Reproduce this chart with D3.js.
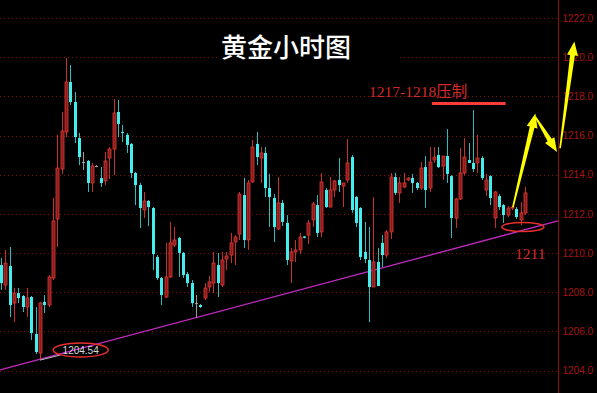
<!DOCTYPE html>
<html><head><meta charset="utf-8">
<script src="https://cdn.jsdelivr.net/npm/d3@7/dist/d3.min.js"></script>
<style>html,body{margin:0;padding:0;background:#000;overflow:hidden}</style>
</head><body>
<svg id="c" width="597" height="393"></svg>
<script>
// ---- data ----
const opens  = [1209.39,1208.37,1209.34,1207.45,1207.96,1207.81,1207.25,1207.76,1205.87,1204.90,1207.51,1207.35,1208.73,1211.74,1214.29,1216.18,1218.73,1217.71,1215.87,1214.65,1214.70,1213.58,1214.44,1213.83,1213.68,1214.85,1215.31,1217.20,1216.18,1216.03,1215.57,1214.09,1213.47,1212.20,1212.66,1212.30,1209.80,1208.73,1207.76,1208.78,1210.41,1210.77,1210.01,1208.93,1208.47,1207.45,1207.35,1207.71,1208.27,1208.47,1209.39,1208.37,1209.70,1209.90,1210.57,1210.97,1212.96,1210.67,1213.63,1215.57,1214.85,1215.11,1213.32,1212.81,1211.23,1212.56,1211.54,1209.60,1210.06,1210.16,1210.85,1210.92,1211.69,1212.45,1211.08,1213.22,1212.35,1213.22,1213.73,1213.42,1213.73,1214.90,1212.86,1212.30,1210.06,1209.65,1208.27,1209.55,1210.52,1209.90,1211.08,1213.88,1213.07,1213.37,1213.73,1213.83,1213.58,1213.32,1214.39,1213.32,1214.75,1215.01,1214.44,1214.95,1213.93,1211.79,1212.76,1214.09,1214.75,1214.60,1214.60,1214.85,1213.22,1213.93,1211.79,1212.91,1212.45,1211.94,1212.30,1212.25,1211.69,1212.05];
const highs  = [1209.75,1210.16,1210.31,1208.22,1208.22,1207.86,1208.22,1207.81,1207.25,1207.51,1207.86,1208.88,1212.81,1216.03,1217.20,1219.95,1219.60,1218.22,1216.13,1215.16,1214.75,1214.60,1214.49,1214.39,1215.16,1215.41,1217.86,1217.81,1216.54,1216.13,1215.62,1214.14,1213.58,1213.12,1212.71,1212.35,1209.90,1208.78,1210.52,1211.59,1211.33,1210.82,1210.06,1209.04,1208.63,1207.86,1207.40,1208.47,1208.83,1210.06,1210.01,1210.06,1210.06,1211.03,1210.92,1213.12,1213.83,1213.73,1215.77,1216.18,1215.41,1215.41,1214.04,1213.01,1213.88,1212.71,1211.94,1210.26,1210.67,1211.03,1210.87,1211.69,1212.61,1212.96,1214.09,1213.32,1213.88,1213.73,1214.85,1213.58,1215.82,1215.01,1212.91,1212.35,1211.59,1211.33,1212.86,1210.26,1210.92,1211.18,1214.09,1214.09,1213.88,1214.09,1213.88,1214.04,1213.63,1214.65,1214.95,1215.41,1215.41,1215.41,1214.95,1216.33,1213.98,1212.81,1215.36,1215.87,1215.62,1217.30,1216.03,1214.95,1214.04,1213.98,1213.17,1213.01,1212.51,1212.40,1212.40,1212.35,1212.61,1213.37];
const lows   = [1208.12,1208.12,1206.74,1206.48,1207.45,1207.00,1206.74,1205.57,1204.85,1204.54,1206.94,1207.25,1208.63,1210.31,1214.04,1215.92,1217.56,1215.62,1214.49,1214.24,1213.12,1213.12,1214.39,1213.37,1213.47,1213.78,1213.98,1215.92,1215.67,1215.11,1213.83,1212.45,1211.28,1211.79,1211.38,1209.14,1208.63,1207.35,1207.71,1208.73,1210.31,1208.78,1208.73,1208.27,1207.25,1206.69,1207.20,1207.61,1208.02,1207.96,1207.76,1208.27,1209.14,1209.49,1209.39,1210.67,1210.26,1210.16,1213.58,1214.49,1213.58,1212.86,1211.33,1210.57,1211.18,1211.38,1209.39,1208.47,1209.55,1209.95,1210.75,1210.46,1211.33,1210.82,1210.82,1212.30,1212.35,1212.86,1213.12,1212.35,1213.58,1212.05,1211.33,1209.65,1209.49,1206.48,1208.27,1208.32,1209.29,1209.75,1210.72,1212.96,1212.56,1213.32,1213.68,1213.07,1213.22,1213.22,1212.30,1213.12,1214.60,1214.34,1213.73,1213.58,1210.77,1211.28,1212.71,1213.98,1214.60,1214.14,1214.09,1213.73,1212.91,1212.45,1211.28,1212.20,1211.54,1211.84,1212.20,1211.74,1211.43,1211.94];
const closes = [1208.47,1209.49,1207.35,1207.96,1207.71,1207.25,1207.71,1205.92,1204.95,1207.45,1207.35,1208.78,1211.64,1214.34,1216.23,1218.73,1217.71,1215.92,1214.90,1214.65,1213.58,1214.44,1214.44,1213.58,1214.70,1215.31,1217.15,1216.59,1216.13,1215.52,1214.09,1213.47,1212.30,1212.66,1212.35,1209.95,1208.73,1207.86,1208.78,1210.52,1210.67,1210.01,1208.88,1208.47,1207.45,1207.45,1207.25,1208.22,1208.53,1209.49,1208.47,1209.65,1209.85,1210.52,1210.82,1213.01,1210.67,1213.58,1215.41,1214.90,1215.11,1213.32,1212.86,1211.33,1212.56,1211.59,1209.65,1210.06,1210.16,1210.82,1210.78,1211.54,1212.51,1211.03,1213.63,1212.35,1213.22,1213.68,1213.47,1213.58,1214.60,1212.20,1211.54,1209.80,1209.70,1208.27,1209.55,1208.32,1209.90,1211.08,1213.88,1213.07,1213.58,1213.58,1213.83,1213.58,1213.32,1214.34,1213.22,1214.65,1214.90,1214.39,1214.95,1214.04,1211.79,1212.76,1214.09,1214.90,1214.60,1214.29,1214.85,1213.83,1213.73,1212.81,1213.12,1212.35,1211.94,1212.30,1212.35,1211.84,1212.05,1213.07];
const priceTicks = [1204,1206,1208,1210,1212,1214,1216,1218,1220,1222];
const titleText = "黄金小时图";
const resistText = "1217-1218压制";
const resistLevel = {from: 99.5, to: 116.5, price: 1217.63};
const supportText = "1211";
const lowMarkText = "1204.54";
const lowMark = {i: 18.4, price: 1205.06, fromIdx: 9, fromPrice: 1204.54};
const lastMark = {i: 120.5, price: 1211.33};
const trendLine = [{i: -0.2, price: 1204.04}, {i: 128.6, price: 1211.64}];
const arrowPath = [
  [{i: 118.2, price: 1212.34}, {i: 123.4, price: 1217.12}],
  [{i: 123.4, price: 1216.95}, {i: 128.4, price: 1215.16}],
  [{i: 129.1, price: 1215.35}, {i: 132.4, price: 1220.8}]
];

// ---- scales ----
const W = 597, H = 393, axisX = 558;
const x = d3.scaleLinear().domain([0, opens.length - 1]).range([1, 525]);
const y = d3.scaleLinear().domain([1204, 1222]).range([370.7, 17.9]);
const svg = d3.select("#c");
svg.append("rect").attr("width", W).attr("height", H).attr("fill", "#000");

// grid
svg.append("g").selectAll("line").data(priceTicks).join("line")
  .attr("x1", 0).attr("x2", axisX).attr("y1", d => Math.round(y(d)) + 0.5).attr("y2", d => Math.round(y(d)) + 0.5)
  .attr("stroke", "#8a0c0c").attr("stroke-width", 1).attr("stroke-dasharray", "1,3");

// title backing
svg.append("rect").attr("x", 218).attr("y", 22).attr("width", 182).attr("height", 42).attr("fill", "#000");

// axis
const axis = d3.axisRight(y).tickValues(priceTicks).tickFormat(d3.format(".1f")).tickSize(0).tickPadding(4);
const ag = svg.append("g").attr("transform", `translate(${axisX + 0.5},0)`).call(axis);
ag.select(".domain").remove();
ag.selectAll("text").attr("fill", "#a81414").style("font-family", "Liberation Sans, Arial, sans-serif").style("font-size", "10px");
svg.append("line").attr("x1", axisX + 0.5).attr("x2", axisX + 0.5).attr("y1", 0).attr("y2", H).attr("stroke", "#8a1010").attr("stroke-width", 1);

// trend line
svg.append("line")
  .attr("x1", x(trendLine[0].i)).attr("y1", y(trendLine[0].price))
  .attr("x2", x(trendLine[1].i)).attr("y2", y(trendLine[1].price))
  .attr("stroke", "#c12bc1").attr("stroke-width", 1.3);

// candles
const data = opens.map((o, i) => ({i, o, h: highs[i], l: lows[i], c: closes[i]}));
const kind = d => Math.abs(d.c - d.o) < 0.02 ? "doji" : (d.c > d.o ? "up" : "down");
const wickCol = {up: "#c8302e", down: "#2cbcbc", doji: "#9a9a9a"};
const g = svg.append("g");
const cg = g.selectAll("g").data(data).join("g");
cg.append("line")
  .attr("x1", d => Math.round(x(d.i)) + 0.5).attr("x2", d => Math.round(x(d.i)) + 0.5)
  .attr("y1", d => y(d.h)).attr("y2", d => y(d.l))
  .attr("stroke", d => wickCol[kind(d)]).attr("stroke-width", 1);
cg.append("rect")
  .attr("x", d => Math.round(x(d.i)) - 1)
  .attr("width", 3)
  .attr("y", d => y(Math.max(d.o, d.c)))
  .attr("height", d => Math.max(1, y(Math.min(d.o, d.c)) - y(Math.max(d.o, d.c))))
  .attr("fill", d => ({up: "#8e1b1b", down: "#44eeee", doji: "#aaaaaa"})[kind(d)])
  .attr("stroke", d => kind(d) === "up" ? "#d83a36" : "none")
  .attr("stroke-width", 0.8);

// title
svg.append("text").attr("x", 286).attr("y", 57).attr("text-anchor", "middle")
  .attr("fill", "#ffffff").style("font-family", "Noto Sans CJK SC, sans-serif").style("font-size", "26px").style("font-weight", "500")
  .text(titleText);

// resistance label & line
svg.append("text").attr("x", 369).attr("y", 97)
  .attr("fill", "#d42a2a").style("font-family", "Liberation Serif, Noto Sans CJK SC, serif").style("font-size", "15.5px")
  .text(resistText);
svg.append("line").attr("x1", x(resistLevel.from)).attr("x2", x(resistLevel.to))
  .attr("y1", y(resistLevel.price)).attr("y2", y(resistLevel.price))
  .attr("stroke", "#ff3b3b").attr("stroke-width", 3);

// low marker
svg.append("line").attr("x1", x(lowMark.fromIdx)).attr("y1", y(lowMark.fromPrice))
  .attr("x2", x(lowMark.i) - 20).attr("y2", y(lowMark.price) + 5)
  .attr("stroke", "#bbbbbb").attr("stroke-width", 1);
svg.append("ellipse").attr("cx", x(lowMark.i)).attr("cy", y(lowMark.price)).attr("rx", 27.5).attr("ry", 7)
  .attr("fill", "none").attr("stroke", "#e8302c").attr("stroke-width", 1.5);
svg.append("text").attr("x", x(lowMark.i)).attr("y", y(lowMark.price) + 3.6).attr("text-anchor", "middle")
  .attr("fill", "#d8d8d8").style("font-family", "Liberation Sans, Arial, sans-serif").style("font-size", "10px")
  .text(lowMarkText);

// last marker
svg.append("ellipse").attr("cx", x(lastMark.i)).attr("cy", y(lastMark.price)).attr("rx", 21).attr("ry", 4.5)
  .attr("fill", "none").attr("stroke", "#e8302c").attr("stroke-width", 1.5);
svg.append("text").attr("x", 515).attr("y", 259)
  .attr("fill", "#d42a2a").style("font-family", "Liberation Serif, serif").style("font-size", "15.5px")
  .text(supportText);

// arrows
function arrow(p0, p1) {
  const x0 = x(p0.i), y0 = y(p0.price), x1 = x(p1.i), y1 = y(p1.price);
  const dx = x1 - x0, dy = y1 - y0, L = Math.hypot(dx, dy);
  const ux = dx / L, uy = dy / L, nx = -uy, ny = ux;
  const hl = 14, hw = 5.5, w0 = 0.8, w1 = 2.4;
  const bx = x1 - ux * hl, by = y1 - uy * hl;
  const pts = [
    [x0 + nx * w0, y0 + ny * w0], [bx + nx * w1, by + ny * w1], [bx + nx * hw, by + ny * hw],
    [x1, y1], [bx - nx * hw, by - ny * hw], [bx - nx * w1, by - ny * w1], [x0 - nx * w0, y0 - ny * w0]
  ];
  svg.append("polygon").attr("points", pts.map(p => p.join(",")).join(" ")).attr("fill", "#ffff00");
}
arrowPath.forEach(s => arrow(s[0], s[1]));
</script>
</body></html>
